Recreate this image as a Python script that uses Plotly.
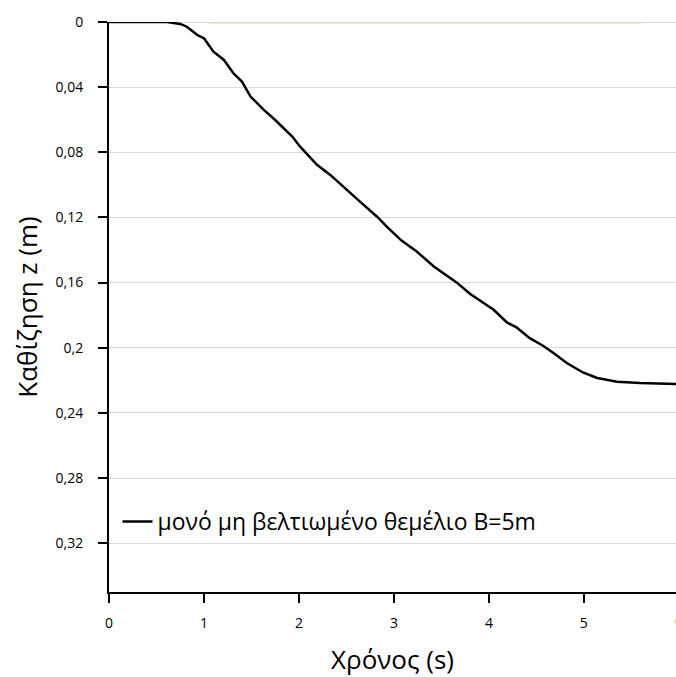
import plotly.graph_objects as go

# Settlement history of an unimproved single footing (B = 5 m)
time_s = [0.0, 0.30, 0.61, 0.75, 0.82, 0.93, 1.00, 1.10, 1.21, 1.31, 1.40, 1.49,
          1.63, 1.73, 1.84, 1.93, 2.01, 2.19, 2.33, 2.54, 2.66, 2.82, 2.93, 3.08,
          3.24, 3.42, 3.66, 3.80, 4.05, 4.19, 4.29, 4.43, 4.57, 4.68, 4.82, 4.99,
          5.14, 5.35, 5.59, 5.97]
settlement_m = [0.0, 0.0, 0.0, 0.0012, 0.0029, 0.0080, 0.0100, 0.0182, 0.0233,
                0.0315, 0.0366, 0.0458, 0.0540, 0.0591, 0.0652, 0.0703, 0.0764,
                0.0877, 0.0939, 0.1051, 0.1112, 0.1194, 0.1260, 0.1342, 0.1409,
                0.1501, 0.1599, 0.1669, 0.1767, 0.1845, 0.1875, 0.1941, 0.1988,
                0.2033, 0.2094, 0.2152, 0.2186, 0.2209, 0.2217, 0.2223]

# Faint baseline series along z = 0
base_t = [1.05, 5.60]
base_z = [0.0, 0.0]

series_name = "μονό μη βελτιωμένο θεμέλιο Β=5m"
x_title = "Χρόνος (s)"
y_title = "Καθίζηση z (m)"
x_ticks = [0, 1, 2, 3, 4, 5]
y_ticks = [0, 0.04, 0.08, 0.12, 0.16, 0.2, 0.24, 0.28, 0.32]
x_max = 5.97

FONT = "Open Sans"

fig = go.Figure()
# light grid line along z = 0 (top edge of the plot)
fig.add_shape(type="line", xref="paper", yref="y", x0=0, x1=1, y0=0, y1=0,
              line=dict(color="#d9d9d9", width=2), layer="below")
fig.add_trace(go.Scatter(x=base_t, y=base_z, mode="lines",
                         line=dict(color="#ddd9c3", width=3),
                         showlegend=False, hoverinfo="skip"))
fig.add_trace(go.Scatter(x=time_s, y=settlement_m, mode="lines",
                         name=series_name,
                         line=dict(color="black", width=2.5)))

fig.update_layout(
    width=676, height=677,
    margin=dict(l=109, r=0, t=22, b=85),
    paper_bgcolor="white", plot_bgcolor="white",
    separators=",.",
    font=dict(family=FONT, color="black"),
    legend=dict(x=0.015, y=0.1236, xanchor="left", yanchor="middle",
                bgcolor="rgba(0,0,0,0)", font=dict(size=23, family=FONT)),
    xaxis=dict(range=[0, x_max], tickvals=x_ticks, showgrid=False, zeroline=False,
               showline=True, linecolor="black", linewidth=2,
               ticks="outside", ticklen=9, tickwidth=2, tickcolor="black",
               tickfont=dict(size=14), ticklabelstandoff=8,
               title=dict(text=x_title, font=dict(size=26), standoff=22)),
    yaxis=dict(range=[0.35, 0], tickvals=y_ticks, showgrid=True,
               gridcolor="#d9d9d9", gridwidth=1, zeroline=False,
               showline=True, linecolor="black", linewidth=2,
               ticks="outside", ticklen=9, tickwidth=2, tickcolor="black",
               tickfont=dict(size=14), ticklabelstandoff=12,
               title=dict(text=y_title, font=dict(size=26), standoff=10)),
)

# The 6 s tick falls just past the right edge; its label is clipped by the canvas
fig.add_annotation(text="6", xref="paper", yref="paper", x=6 / x_max, y=0,
                   yanchor="top", xanchor="center", yshift=-17, showarrow=False,
                   font=dict(size=14, family=FONT))

fig.write_html("out.html")
